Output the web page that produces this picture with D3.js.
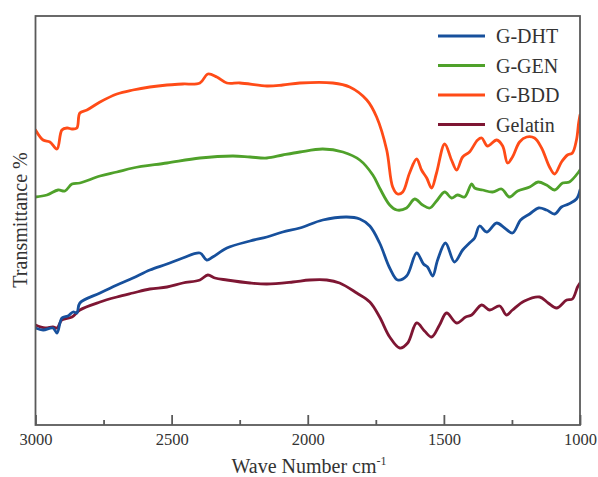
<!DOCTYPE html>
<html>
<head>
<meta charset="utf-8">
<script src="https://cdn.jsdelivr.net/npm/d3@7"></script>
<style>
  html, body { margin: 0; padding: 0; background: #fff; }
  svg { display: block; }
  text { font-family: "Liberation Serif", "Times New Roman", serif; fill: #333; }
</style>
</head>
<body>
<svg id="chart" width="598" height="477"></svg>
<script>
// ---- data (wave number cm-1, transmittance a.u.) ----
const seriesNames = ["G-DHT", "G-GEN", "G-BDD", "Gelatin"];
const seriesColors = ["#17509c", "#4fa12a", "#ff4b17", "#7e1633"];
const xTicksMajor = [3000, 2500, 2000, 1500, 1000];
const xTicksMinor = [2750, 2250, 1750, 1250];

const gBDD = [[3000,295],[2972,285],[2947,283],[2921,276],[2903,295],[2884,297],[2866,296],[2848,297],[2837,312],[2811,315],[2763,323],[2701,331],[2642,335],[2580,338],[2517,340],[2459,341],[2396,342],[2367,351],[2334,348],[2297,342],[2249,342],[2150,339],[2092,340],[2029,342],[1908,342],[1846,338],[1783,325],[1747,308],[1710,275],[1688,238],[1670,231],[1651,233],[1626,252],[1600,266],[1582,255],[1563,247],[1545,237],[1527,252],[1497,281],[1472,265],[1453,255],[1431,268],[1406,273],[1376,285],[1361,287],[1340,279],[1306,285],[1284,279],[1266,262],[1248,268],[1222,283],[1196,288],[1167,287],[1141,277],[1112,258],[1093,251],[1068,263],[1046,270],[1028,272],[1013,285],[1005,302],[1000,310]];

const gGEN = [[3000,228],[2958,230],[2917,235],[2892,234],[2866,241],[2837,242],[2763,249],[2701,253],[2642,257],[2517,262],[2396,267],[2275,269],[2212,268],[2150,267],[2092,270],[2029,273],[1945,276],[1871,273],[1809,265],[1761,250],[1736,237],[1699,220],[1673,215],[1637,217],[1607,226],[1578,220],[1552,217],[1527,224],[1497,233],[1472,227],[1450,230],[1424,228],[1398,241],[1387,237],[1358,235],[1321,233],[1288,236],[1259,228],[1229,234],[1185,238],[1154,243],[1123,240],[1093,235],[1064,242],[1039,243],[1005,253],[1000,255]];

const gDHT = [[3000,97],[2972,95],[2936,97],[2921,92],[2903,107],[2881,109],[2862,113],[2848,112],[2837,122],[2763,132],[2701,140],[2642,147],[2580,155],[2517,161],[2459,167],[2396,172],[2371,165],[2349,168],[2297,177],[2212,184],[2150,188],[2092,193],[2029,197],[1945,205],[1857,208],[1809,206],[1772,199],[1736,182],[1699,157],[1670,145],[1637,149],[1600,172],[1575,161],[1560,158],[1541,149],[1523,165],[1494,182],[1461,163],[1431,175],[1406,182],[1387,187],[1369,199],[1343,193],[1306,202],[1277,197],[1248,192],[1218,205],[1185,211],[1152,217],[1123,215],[1093,211],[1068,218],[1042,221],[1013,226],[1000,235]];

const gelatin = [[3000,100],[2965,97],[2936,98],[2921,97],[2903,105],[2866,108],[2837,115],[2763,123],[2701,128],[2642,132],[2580,136],[2517,138],[2459,142],[2396,145],[2367,150],[2341,147],[2297,145],[2212,142],[2150,141],[2055,143],[1993,145],[1930,145],[1883,142],[1820,132],[1772,123],[1736,108],[1699,88],[1662,77],[1633,82],[1600,102],[1571,94],[1545,88],[1516,100],[1490,112],[1453,102],[1420,108],[1398,110],[1361,120],[1332,115],[1295,119],[1270,110],[1248,115],[1204,124],[1148,128],[1117,122],[1086,117],[1049,125],[1028,126],[1009,138],[1000,142]];

const allSeries = [gDHT, gGEN, gBDD, gelatin];
// draw order: back to front
const drawOrder = [3, 0, 1, 2];

// ---- layout ----
const svg = d3.select("#chart");
const plotLeft = 35.5, plotRight = 580, plotTop = 16, plotBottom = 425;
const serif = "'Liberation Serif', 'Times New Roman', serif";

const x = d3.scaleLinear().domain([3000, 1000]).range([plotLeft, plotRight]);
const y = d3.scaleLinear().domain([0, 409]).range([plotBottom, plotTop]);

const line = d3.line()
  .x(d => x(d[0]))
  .y(d => y(d[1]))
  .curve(d3.curveCatmullRom.alpha(0.5));

svg.append("defs").append("clipPath").attr("id", "clip")
  .append("rect").attr("x", plotLeft).attr("y", plotTop)
  .attr("width", plotRight - plotLeft).attr("height", plotBottom - plotTop);

const plot = svg.append("g").attr("clip-path", "url(#clip)");
drawOrder.forEach(i => {
  plot.append("path")
    .datum(allSeries[i])
    .attr("d", line)
    .attr("fill", "none")
    .attr("stroke", seriesColors[i])
    .attr("stroke-width", 2.8)
    .attr("stroke-linejoin", "round")
    .attr("stroke-linecap", "round");
});

// frame
svg.append("rect")
  .attr("x", plotLeft).attr("y", plotTop)
  .attr("width", plotRight - plotLeft).attr("height", plotBottom - plotTop)
  .attr("fill", "none").attr("stroke", "#5a5a5a").attr("stroke-width", 1.8);

// bottom axis major
const axMajor = svg.append("g")
  .attr("transform", `translate(0,${plotBottom})`)
  .call(d3.axisBottom(x).tickValues(xTicksMajor).tickFormat(d3.format("d"))
        .tickSizeInner(-10).tickSizeOuter(0).tickPadding(8))
  .attr("font-family", serif).attr("font-size", 16.5);
axMajor.select(".domain").remove();
axMajor.selectAll("line").attr("stroke", "#5a5a5a").attr("stroke-width", 1.8);
axMajor.selectAll("text")
  .attr("y", 8)
  .style("font-family", serif)
  .style("font-size", "16.5px").attr("fill", "#333");

const axMinor = svg.append("g")
  .attr("transform", `translate(0,${plotBottom})`)
  .call(d3.axisBottom(x).tickValues(xTicksMinor).tickFormat("")
        .tickSizeInner(-5).tickSizeOuter(0));
axMinor.select(".domain").remove();
axMinor.selectAll("line").attr("stroke", "#5a5a5a").attr("stroke-width", 1.8);

// axis titles
const xt = svg.append("text")
  .attr("x", 309).attr("y", 473)
  .attr("text-anchor", "middle")
  .style("font-size", "20px");
xt.append("tspan").text("Wave Number cm");
xt.append("tspan").attr("dy", -8).style("font-size", "12px").text("-1");

svg.append("text")
  .attr("transform", `translate(27,220) rotate(-90)`)
  .attr("text-anchor", "middle")
  .style("font-size", "20px")
  .text("Transmittance %");

// legend
const legend = svg.append("g");
seriesNames.forEach((name, i) => {
  const cy = 36 + i * 29.5;
  legend.append("line")
    .attr("x1", 438).attr("x2", 485).attr("y1", cy).attr("y2", cy)
    .attr("stroke", seriesColors[i]).attr("stroke-width", 3);
  legend.append("text")
    .attr("x", 496).attr("y", cy + 7)
    .style("font-size", "20px")
    .text(name);
});
</script>
</body>
</html>
